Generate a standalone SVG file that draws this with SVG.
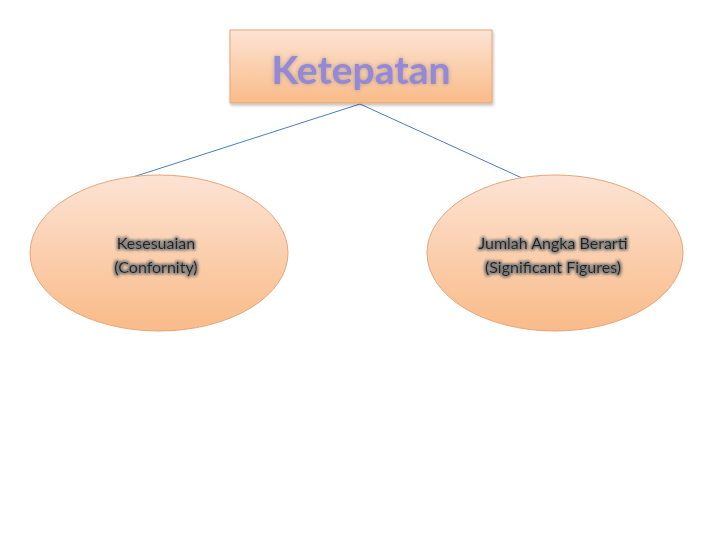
<svg xmlns="http://www.w3.org/2000/svg" width="728" height="546" viewBox="0 0 728 546">
<defs>
<linearGradient id="g" x1="0" y1="0" x2="0" y2="1">
<stop offset="0" stop-color="#fde3d4"/>
<stop offset="1" stop-color="#f9bb88"/>
</linearGradient>
<filter id="glow" x="-20%" y="-40%" width="140%" height="180%">
<feMorphology in="SourceAlpha" operator="dilate" radius="1" result="d"/>
<feGaussianBlur in="d" stdDeviation="1.6" result="b"/>
<feFlood flood-color="#777" flood-opacity="0.8"/>
<feComposite in2="b" operator="in" result="s"/>
<feMerge><feMergeNode in="s"/><feMergeNode in="s"/><feMergeNode in="SourceGraphic"/></feMerge>
</filter>
<filter id="tglow" x="-20%" y="-40%" width="140%" height="180%">
<feGaussianBlur in="SourceAlpha" stdDeviation="2" result="b"/>
<feFlood flood-color="#8a8a8a" flood-opacity="0.7"/>
<feComposite in2="b" operator="in" result="s"/>
<feMerge><feMergeNode in="s"/><feMergeNode in="SourceGraphic"/></feMerge>
</filter>
<filter id="shadow" x="-10%" y="-10%" width="130%" height="140%">
<feGaussianBlur in="SourceAlpha" stdDeviation="1.5"/>
<feOffset dx="1" dy="2" result="o"/>
<feFlood flood-color="#000" flood-opacity="0.25"/>
<feComposite in2="o" operator="in"/>
<feMerge><feMergeNode/><feMergeNode in="SourceGraphic"/></feMerge>
</filter>
</defs>
<style>
.shape{fill:url(#g);stroke:#e6a677;stroke-width:1}
.lbl{font-family:"Lato","Liberation Sans",sans-serif;font-size:16px;fill:#222;text-anchor:middle}
.title{font-family:"Lato","Liberation Sans",sans-serif;font-weight:bold;font-size:39px;fill:#9488d8;text-anchor:middle}
.conn{stroke:#4a7ebb;stroke-width:1;fill:none}
</style>
<rect width="728" height="546" fill="#fff"/>
<g id="connectors">
<line class="conn" x1="360" y1="104" x2="133" y2="177"/>
<line class="conn" x1="360" y1="104" x2="522" y2="178"/>
</g>
<g id="ketepatan">
<rect class="shape" x="230" y="30" width="262" height="73" filter="url(#shadow)"/>
<text class="title" x="361" y="84" filter="url(#tglow)">Ketepatan</text>
</g>
<g id="kesesuaian">
<ellipse class="shape" cx="159" cy="253" rx="129" ry="78"/>
<text class="lbl" x="156" y="249" filter="url(#glow)">Kesesuaian</text>
<text class="lbl" x="156" y="273" filter="url(#glow)">(Confornity)</text>
</g>
<g id="jumlah">
<ellipse class="shape" cx="555" cy="253" rx="128" ry="78"/>
<text class="lbl" x="553" y="249" filter="url(#glow)">Jumlah Angka Berarti</text>
<text class="lbl" x="553" y="273" filter="url(#glow)">(Significant Figures)</text>
</g>
</svg>
